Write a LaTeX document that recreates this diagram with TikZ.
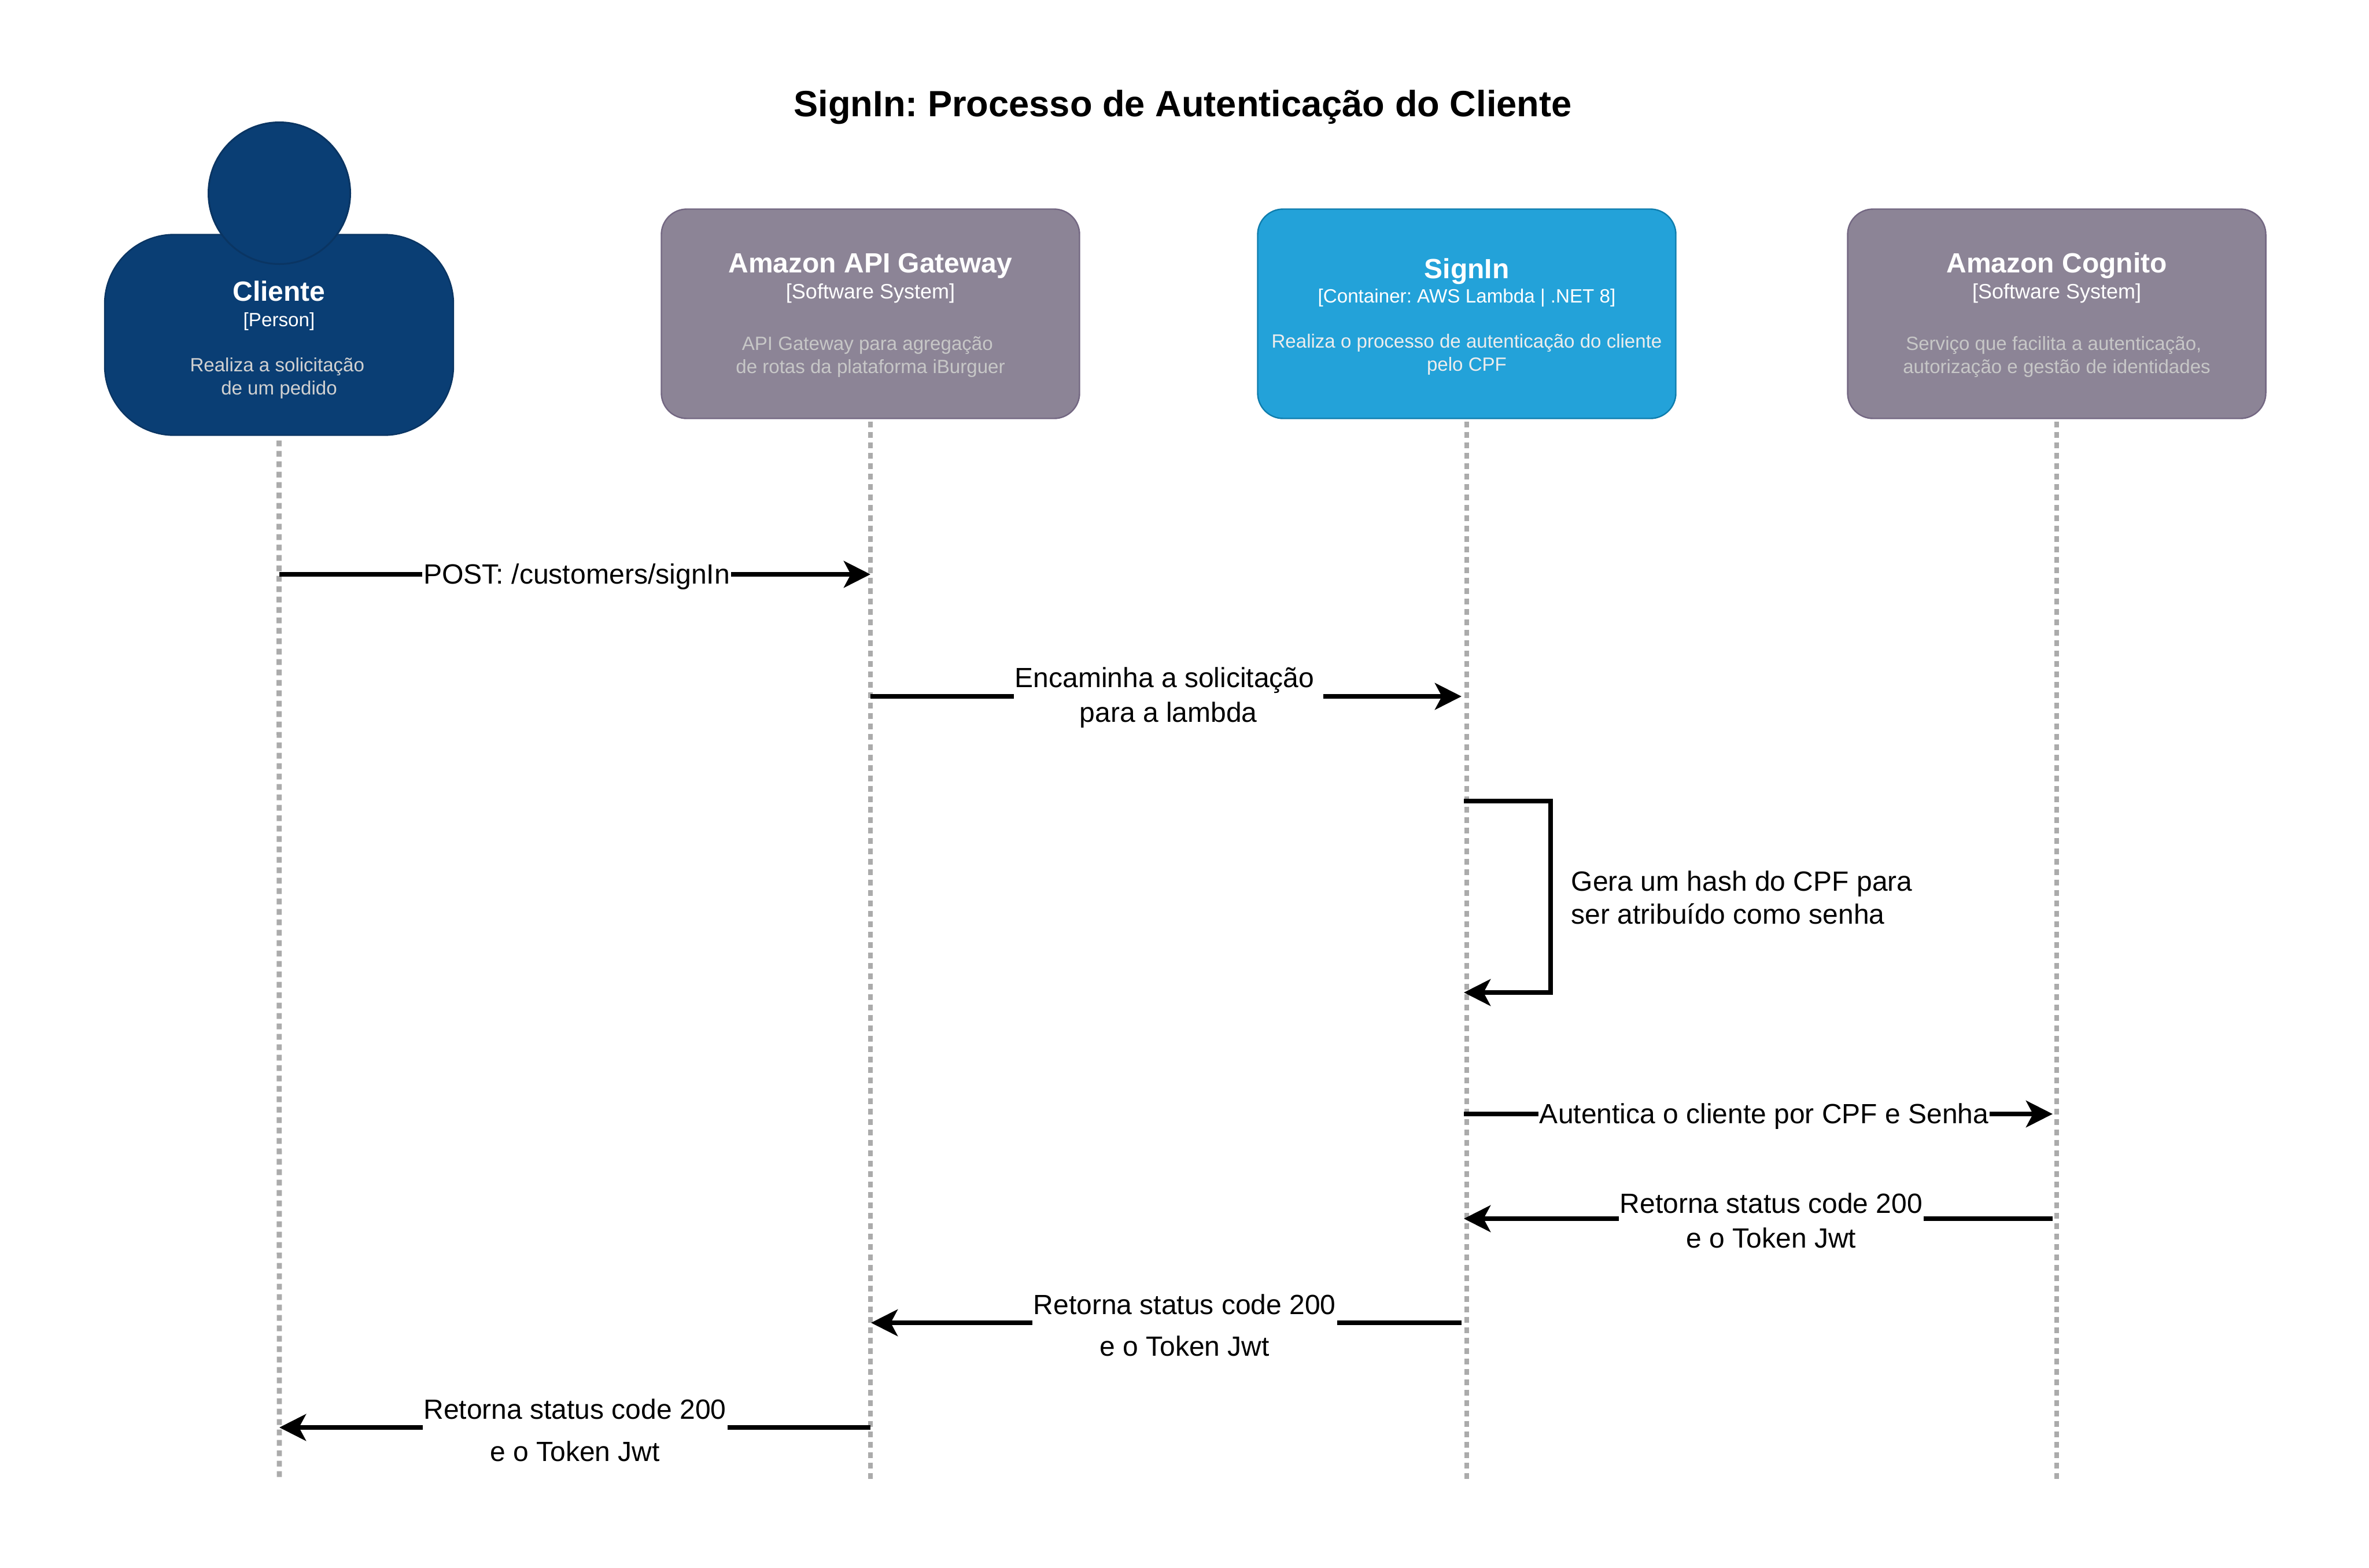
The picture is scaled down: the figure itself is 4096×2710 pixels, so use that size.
\documentclass[tikz,border=0pt]{standalone}
\usepackage{xcolor}
\usepackage{fontspec}
\setmainfont{Liberation Sans}
\usepackage{tikz}
\usetikzlibrary{arrows.meta, positioning}

\definecolor{personfill}{HTML}{0A3E74}
\definecolor{personline}{HTML}{0A3563}
\definecolor{systemfill}{HTML}{8C8496}
\definecolor{systemline}{HTML}{736782}
\definecolor{containerfill}{HTML}{23A2D9}
\definecolor{containerline}{HTML}{0E7DAD}

\newcommand{\titlefont}{\fontsize{12}{12}\bfseries\selectfont}
\newcommand{\typefont}{\fontsize{9}{10}\selectfont\color{white}}
\newcommand{\smalltypefont}{\fontsize{8.3}{10}\selectfont\color{white}}
\newcommand{\descfont}{\fontsize{8.27}{10}\selectfont}
\setlength{\lineskiplimit}{-20pt}
\frenchspacing

\begin{document}
\begin{tikzpicture}[
        x=0.25pt, y=-0.25pt,
        element/.style={rectangle, rounded corners=11pt, line width=0.6pt, inner sep=0pt,
                     minimum width=180.75pt, minimum height=90.5pt, align=center,
                     text=white, font=\fontsize{8.5}{10}\selectfont},
        system/.style={element, draw=systemline, fill=systemfill, text=white},
        container/.style={element, draw=containerline, fill=containerfill},
        personbody/.style={element, rounded corners=30pt, draw=personline, fill=personfill,
                     minimum width=150.75pt, minimum height=86.75pt},
        personhead/.style={circle, draw=personline, fill=personfill, line width=0.75pt,
                     minimum size=61.25pt, inner sep=0pt},
        lifeline/.style={line width=2.2pt, color=black!33, dash pattern=on 2.5pt off 2pt},
        msg/.style={-{Stealth[length=11.5pt, width=11.5pt, inset=3pt]}, line width=2pt},
        msglabel/.style={fill=white, inner xsep=0.5pt, inner ysep=0pt, align=center,
                     font=\fontsize{12}{15}\selectfont}
    ]
        \useasboundingbox (0,0) rectangle (4096,2710);

        \node[font=\fontsize{15.8}{16}\bfseries\selectfont] (title) at (2045,185)
            {SignIn: Processo de Autenticação do Cliente};

        % elements
        \node[personbody] (cliente) at (482.5,579)
            {\rule{0pt}{12.8pt}{\titlefont Cliente}\\[0.95pt]{\smalltypefont [Person]}\\[9.5pt]{\descfont\color{black!18} Realiza a solicitação\hspace*{1.6pt}}\\{\descfont\color{black!18} de um pedido}};
        \node[personhead] (head) at (483,334) {};
        \node[system] (gateway) at (1505,542.5)
            {\rule{0pt}{9.6pt}{\titlefont Amazon API Gateway}\\[1.25pt]{\typefont [Software System]}\\[12.25pt]{\descfont\color{black!22} API Gateway para agregação\hspace*{2.6pt}}\\{\descfont\color{black!22} de rotas da plataforma iBurguer}};
        \node[container] (signin) at (2536,542.5)
            {\rule{0pt}{11.3pt}{\titlefont SignIn}\\[0.4pt]{\smalltypefont [Container: AWS Lambda | .NET 8]}\\[9.5pt]{\descfont\color{black!7} Realiza o processo de autenticação do cliente}\\{\descfont\color{black!7} pelo CPF}};
        \node[system] (cognito) at (3556,542.5)
            {\rule{0pt}{9.6pt}{\titlefont Amazon Cognito}\\[1.25pt]{\typefont [Software System]}\\[12.25pt]{\descfont\color{black!22} Serviço que facilita a autenticação,\hspace*{2.6pt}}\\{\descfont\color{black!22} autorização e gestão de identidades}};

        % lifelines
        \coordinate (clienteEnd) at (483,2557);
        \coordinate (gatewayEnd) at (1505,2557);
        \coordinate (signinEnd) at (2536,2557);
        \coordinate (cognitoEnd) at (3556,2557);
        \draw[lifeline] ([yshift=-2pt]cliente.south) -- (clienteEnd);
        \draw[lifeline] ([yshift=-1pt]gateway.south) -- (gatewayEnd);
        \draw[lifeline] ([yshift=-1pt]signin.south) -- (signinEnd);
        \draw[lifeline] ([yshift=-1pt]cognito.south) -- (cognitoEnd);

        % messages
        \coordinate (m1a) at (483,993);    \coordinate (m1b) at (1505,993);
        \coordinate (m2a) at (1505,1204);  \coordinate (m2b) at (2527,1204);
        \coordinate (m3a) at (2531,1385);  \coordinate (m3b) at (2681,1385);
        \coordinate (m3c) at (2681,1716);  \coordinate (m3d) at (2531,1716);
        \coordinate (m4a) at (2531,1926);  \coordinate (m4b) at (3549,1926);
        \coordinate (m5a) at (3549,2107);  \coordinate (m5b) at (2531,2107);
        \coordinate (m6a) at (2527,2287);  \coordinate (m6b) at (1506,2287);
        \coordinate (m7a) at (1505,2468);  \coordinate (m7b) at (483,2468);

        \draw[msg] (m1a) -- node[msglabel, pos=.503, yshift=-1pt, font=\fontsize{12.04}{15}\selectfont] (l1) {POST: /customers/signIn} (m1b);
        \draw[msg] (m2a) -- node[msglabel, pos=.504, yshift=-0.6pt] (l2) {Encaminha a solicitação\hspace*{3.3pt}\\para a lambda} (m2b);
        \draw[msg] (m3a) -- (m3b) -- (m3c) -- (m3d);
        \node[anchor=west, align=left, font=\fontsize{12}{14.25}\selectfont, inner sep=0pt] (l3) at (2716,1552)
            {Gera um hash do CPF para\\ser atribuído como senha};
        \draw[msg] (m4a) -- node[msglabel, pos=.51, yshift=-1pt] (l4) {Autentica o cliente por CPF e Senha} (m4b);
        \draw[msg] (m5a) -- node[msglabel, pos=.478, yshift=-0.85pt] (l5) {Retorna status code 200\\e o Token Jwt} (m5b);
        \draw[msg] (m6a) -- node[msglabel, pos=.469, yshift=-1.2pt, font=\fontsize{12}{18}\selectfont] (l6) {Retorna status code 200\\e o Token Jwt} (m6b);
        \draw[msg] (m7a) -- node[msglabel, pos=.5, yshift=-1.2pt, font=\fontsize{12}{18.2}\selectfont] (l7) {Retorna status code 200\\e o Token Jwt} (m7b);
    \end{tikzpicture}
\end{document}
